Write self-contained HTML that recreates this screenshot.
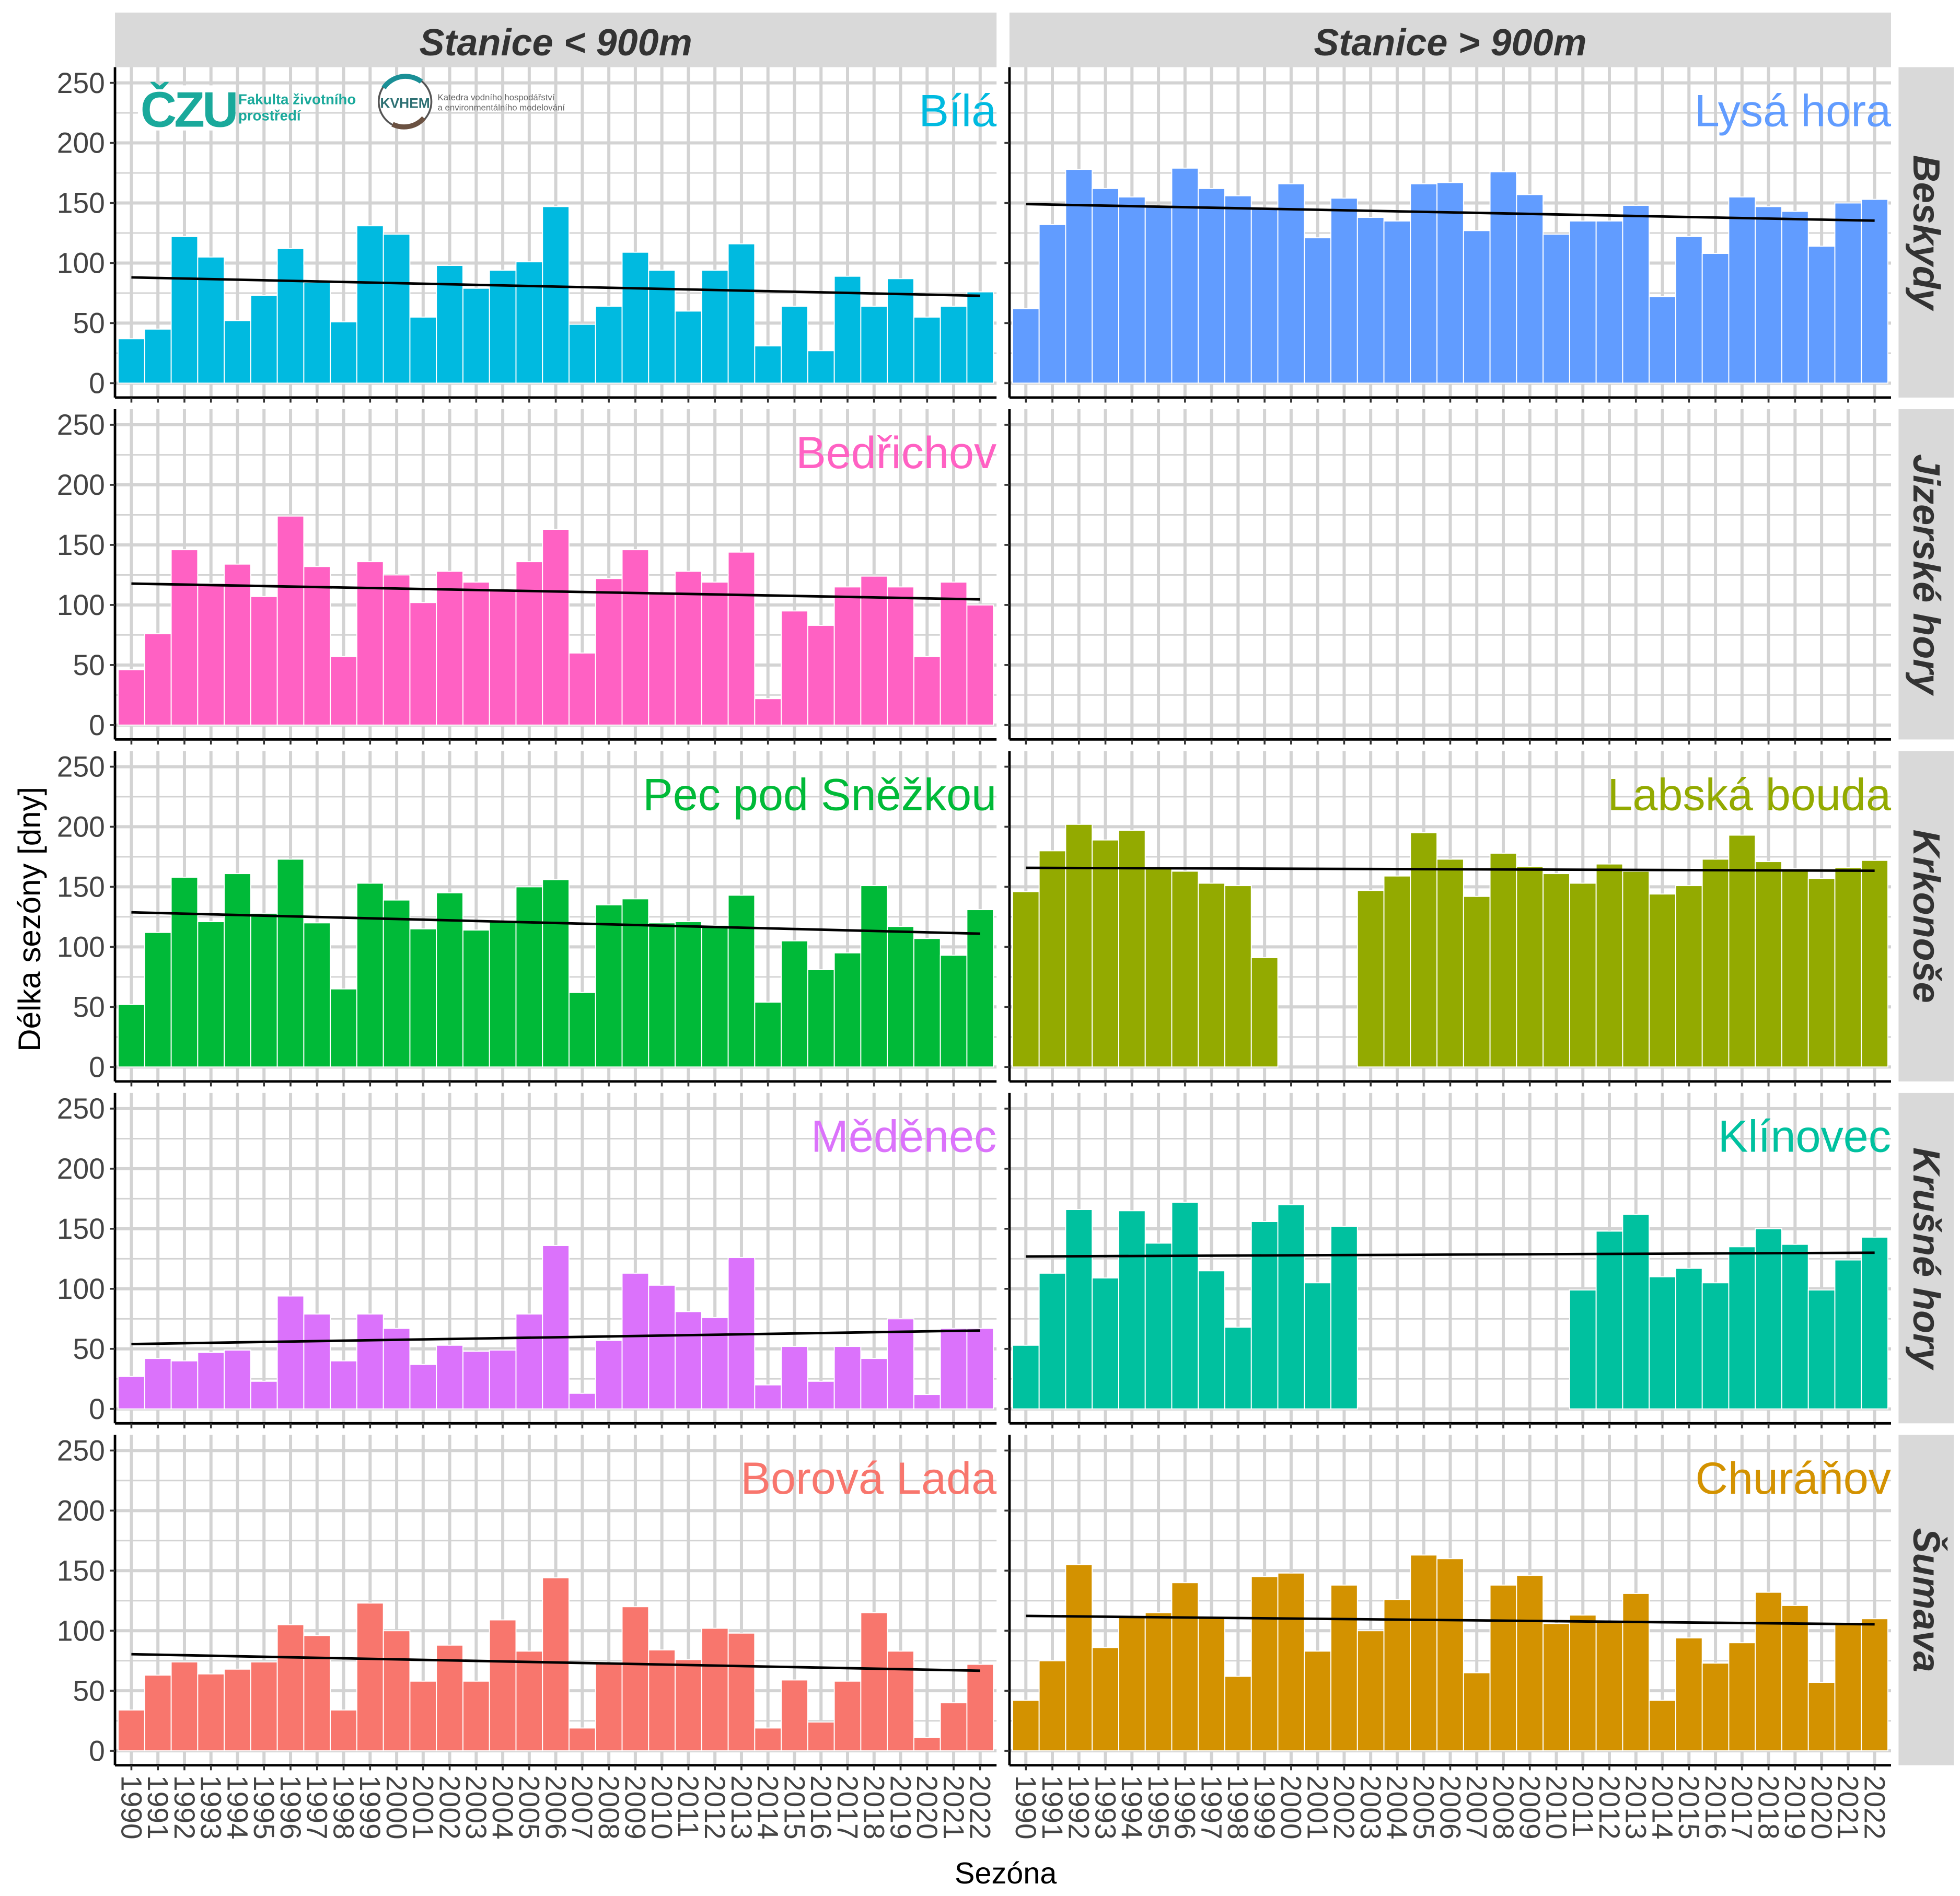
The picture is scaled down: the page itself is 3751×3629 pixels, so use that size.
<!DOCTYPE html>
<html><head><meta charset="utf-8"><style>
html,body{margin:0;padding:0;background:#fff;}
svg{display:block;}
text{font-family:"Liberation Sans",sans-serif;}
</style></head>
<body>
<svg id="chart" xmlns="http://www.w3.org/2000/svg" width="3751" height="3629" viewBox="0 0 1563 1512"></svg>
<script>
const years = [];
for (let y = 1990; y <= 2022; y++) years.push(y);
const yTicks = [0, 50, 100, 150, 200, 250];
const colLabels = ["Stanice < 900m", "Stanice > 900m"];
const rowLabels = ["Beskydy", "Jizerské hory", "Krkonoše", "Krušné hory", "Šumava"];
const N = null;
const bila = [37,45,122,105,52,73,112,84,51,131,124,55,98,79,94,101,147,49,64,109,94,60,94,116,31,64,27,89,64,87,55,64,76];
const lysaHora = [62,132,178,162,155,147,179,162,156,146,166,121,154,138,135,166,167,127,176,157,124,135,135,148,72,122,108,155,147,143,114,150,153];
const bedrichov = [46,76,146,118,134,107,174,132,57,136,125,102,128,119,112,136,163,60,122,146,110,128,119,144,22,95,83,115,124,115,57,119,100];
const pec = [52,112,158,121,161,128,173,120,65,153,139,115,145,114,121,150,156,62,135,140,120,121,118,143,54,105,81,95,151,117,107,93,131];
const labska = [146,180,202,189,197,166,163,153,151,91,N,N,N,147,159,195,173,142,178,167,161,153,169,163,144,151,173,193,171,165,157,166,172];
const medenec = [27,42,40,47,49,23,94,79,40,79,67,37,53,48,49,79,136,13,57,113,103,81,76,126,20,52,23,52,42,75,12,67,67];
const klinovec = [53,113,166,109,165,138,172,115,68,156,170,105,152,N,N,N,N,N,N,N,N,99,148,162,110,117,105,135,150,137,99,124,143];
const borova = [34,63,74,64,68,74,105,96,34,123,100,58,88,58,109,83,144,19,73,120,84,76,102,98,19,59,24,58,115,83,11,40,72];
const churanov = [42,75,155,86,112,115,140,111,62,145,148,83,138,100,126,163,160,65,138,146,106,113,107,131,42,94,73,90,132,121,57,105,110];
const stationNames = [["Bílá","Lysá hora"],["Bedřichov",""],["Pec pod Sněžkou","Labská bouda"],["Měděnec","Klínovec"],["Borová Lada","Churáňov"]];
const stationData = [[bila,lysaHora],[bedrichov,null],[pec,labska],[medenec,klinovec],[borova,churanov]];
const stationColors = [["#00BAE0","#619CFF"],["#FF61C3",""],["#00BA38","#93AA00"],["#DB72FB","#00C19F"],["#F8766D","#D39200"]];

const NS = "http://www.w3.org/2000/svg";
const svg = document.getElementById("chart");
function el(tag, attrs, parent, txt) {
  const e = document.createElementNS(NS, tag);
  for (const k in attrs) e.setAttribute(k, attrs[k]);
  if (txt !== undefined) e.textContent = txt;
  (parent || svg).appendChild(e);
  return e;
}
const panelX = [91.7, 805];
const panelW = 703;
const rowTop0 = 53.5, rowStep = 272.7, panelH = 263.5;
const pxPerUnit = 0.958;
const barW = (panelW - 5) / 33;
function xPos(col, year) { return panelX[col] + 2.5 + (year - 1990 + 0.5) * barW; }
function yPos(row, v) { return rowTop0 + row * rowStep + 252 - v * pxPerUnit; }

for (let c = 0; c < 2; c++) {
  const r = el("rect", {x: panelX[c], y: 10, width: panelW, height: 43.5, fill: "#d9d9d9"});
  
  
  const t = el("text", {x: panelX[c] + panelW / 2, y: 44, "text-anchor": "middle", "font-size": 30, "font-weight": "bold", "font-style": "italic", fill: "#333"}, svg, colLabels[c]);
  
  
}
for (let r = 0; r < 5; r++) {
  const top = rowTop0 + r * rowStep;
  const s = el("rect", {x: 1514, y: top, width: 44, height: panelH, fill: "#d9d9d9"});
  
  
  const cx = 1526, cy = top + panelH / 2;
  const t = el("text", {x: cx, y: cy, transform: `rotate(90 ${cx} ${cy})`, "text-anchor": "middle", "font-size": 30, "font-weight": "bold", "font-style": "italic", fill: "#333"}, svg, rowLabels[r]);
  
  
}

for (let r = 0; r < 5; r++) {
  for (let c = 0; c < 2; c++) {
    const top = rowTop0 + r * rowStep;
    const g = el("g", {});
    
    
    for (let v = 25; v <= 250; v += 50) {
      el("line", {x1: panelX[c], x2: panelX[c] + panelW, y1: yPos(r, v), y2: yPos(r, v), stroke: "#d3d3d3", "stroke-width": 1.2}, g);
    }
    for (const v of yTicks) {
      el("line", {x1: panelX[c], x2: panelX[c] + panelW, y1: yPos(r, v), y2: yPos(r, v), stroke: "#d3d3d3", "stroke-width": 2.5}, g);
    }
    for (const yr of years) {
      el("line", {x1: xPos(c, yr), x2: xPos(c, yr), y1: top, y2: top + panelH, stroke: "#d3d3d3", "stroke-width": 2.5}, g);
    }
    const data = stationData[r][c];
    if (data) {
      data.forEach((v, i) => {
        if (v === null) return;
        const b = el("rect", {x: xPos(c, years[i]) - barW / 2, y: yPos(r, v), width: barW, height: v * pxPerUnit, fill: stationColors[r][c], stroke: "#fff", "stroke-width": 0.8}, g);
        
        
      });
      let n = 0, sx = 0, sy = 0, sxx = 0, sxy = 0;
      data.forEach((v, i) => { if (v === null) return; const x = years[i]; n++; sx += x; sy += v; sxx += x * x; sxy += x * v; });
      const slope = (n * sxy - sx * sy) / (n * sxx - sx * sx);
      const icpt = (sy - slope * sx) / n;
      const y0 = years[0], y1 = years[years.length - 1];
      const tl = el("line", {x1: xPos(c, y0), x2: xPos(c, y1), y1: yPos(r, icpt + slope * y0), y2: yPos(r, icpt + slope * y1), stroke: "#000", "stroke-width": 2}, g);
      
      
      const nm = el("text", {x: panelX[c] + panelW, y: top + 47, "text-anchor": "end", "font-size": 36, fill: stationColors[r][c]}, g, stationNames[r][c]);
      
      
    }
    el("line", {x1: panelX[c], x2: panelX[c], y1: top, y2: top + panelH, stroke: "#000", "stroke-width": 2}, g);
    el("line", {x1: panelX[c], x2: panelX[c] + panelW, y1: top + panelH, y2: top + panelH, stroke: "#000", "stroke-width": 2}, g);
    for (const yr of years) {
      el("line", {x1: xPos(c, yr), x2: xPos(c, yr), y1: top + panelH, y2: top + panelH + 4, stroke: "#333", "stroke-width": 1.5}, g);
    }
    for (const v of yTicks) {
      el("line", {x1: panelX[c] - 4, x2: panelX[c], y1: yPos(r, v), y2: yPos(r, v), stroke: "#333", "stroke-width": 1.5}, g);
      if (c === 0) {
        const t = el("text", {x: panelX[c] - 8, y: yPos(r, v) + 8, "text-anchor": "end", "font-size": 23, fill: "#444"}, g, String(v));
        
        
      }
    }
    if (r === 4) {
      for (const yr of years) {
        const x = xPos(c, yr) - 8, y = top + panelH + 8;
        const t = el("text", {x: x, y: y, transform: `rotate(90 ${x} ${y})`, "font-size": 23, fill: "#444"}, g, String(yr));
        
        
      }
    }
  }
}
const yt = el("text", {x: 32, y: 733, transform: "rotate(-90 32 733)", "text-anchor": "middle", "font-size": 25, fill: "#000"}, svg, "Délka sezóny [dny]");


const xt = el("text", {x: 802, y: 1502, "text-anchor": "middle", "font-size": 24, fill: "#000"}, svg, "Sezóna");



const lg = el("g", {});


el("rect", {x: 110, y: 68, width: 74, height: 36, fill: "#fff"}, lg);
el("text", {x: 112, y: 101, "font-size": 40, "font-weight": "bold", fill: "#1aa99b", "letter-spacing": "-2"}, lg, "ČZU");
el("text", {x: 190, y: 83, "font-size": 11.5, "font-weight": "bold", fill: "#1aa99b"}, lg, "Fakulta životního");
el("text", {x: 190, y: 96, "font-size": 11.5, "font-weight": "bold", fill: "#1aa99b"}, lg, "prostředí");
const kg = el("g", {});


el("circle", {cx: 323, cy: 81, r: 21, fill: "#fff", stroke: "#555", "stroke-width": 1.5}, kg);
el("path", {d: "M306 70 A21 21 0 0 1 336 65", fill: "none", stroke: "#1a8f96", "stroke-width": 4}, kg);
el("path", {d: "M313 99 A21 21 0 0 0 338 94", fill: "none", stroke: "#6b5242", "stroke-width": 4}, kg);
el("text", {x: 323, y: 86, "text-anchor": "middle", "font-size": 11, "font-weight": "bold", fill: "#2d7073"}, kg, "KVHEM");
el("text", {x: 349, y: 80, "font-size": 7, fill: "#666"}, kg, "Katedra vodního hospodářství");
el("text", {x: 349, y: 88, "font-size": 7, fill: "#666"}, kg, "a environmentálního modelování");
</script>
</body></html>
